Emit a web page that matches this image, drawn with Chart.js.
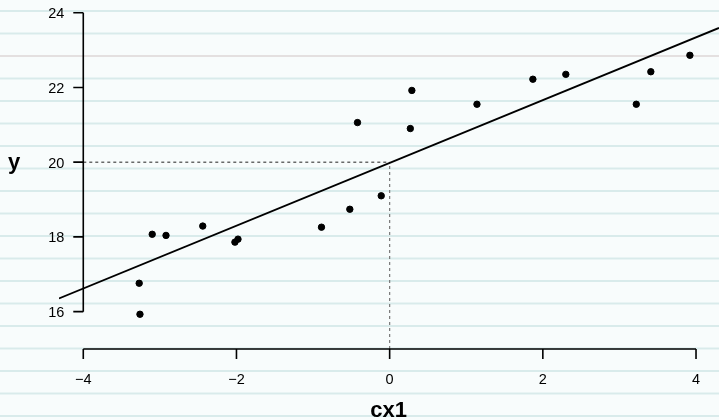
<!DOCTYPE html>
<html lang="en">
<head>
  <meta charset="UTF-8">
  <title>y vs cx1</title>
  <style>
    body { margin: 0; background: #f8fcfc; }
    canvas { display: block; width: 719px !important; height: 420px !important; }
  </style>
  <script src="https://cdn.jsdelivr.net/npm/chart.js"></script>
</head>
<body>
  <canvas id="fitChart" width="719" height="420"></canvas>
  <script>
    // centred predictor and response
    const cx1 = [-3.27, -3.26, -3.10, -2.92, -2.44, -2.02, -1.98, -0.89, -0.52, -0.11,
                 -0.42, 0.29, 0.27, 1.14, 1.87, 2.30, 3.22, 3.41, 3.92];
    const yVals = [16.76, 15.93, 18.07, 18.04, 18.29, 17.86, 17.94, 18.26, 18.74, 19.10,
                   21.06, 21.92, 20.90, 21.55, 22.22, 22.35, 21.55, 22.42, 22.86];
    const xTicks = [-4, -2, 0, 2, 4];
    const yTicks = [16, 18, 20, 22, 24];
    // least squares fit
    const fitIntercept = 19.98;
    const fitSlope = 0.84;

    const xMin = -4.317, xMax = 4.30;
    const yMin = 15, yMax = 24.34;

    const points = cx1.map((x, i) => ({ x: x, y: yVals[i] }));
    const fitLine = [xMin, xMax].map(x => ({ x: x, y: fitIntercept + fitSlope * x }));

    const fmt = v => (v < 0 ? '\u2212' + Math.abs(v) : String(v));

    // ruled paper background
    const paper = {
      id: 'paper',
      beforeDraw(chart) {
        const ctx = chart.ctx;
        ctx.save();
        ctx.fillStyle = '#f8fcfc';
        ctx.fillRect(0, 0, chart.width, chart.height);
        for (let k = 0; k < 19; k++) {
          const yy = 11 + 22.5 * k;
          ctx.strokeStyle = (k === 2) ? '#e4e0e0' : '#d9ebeb';
          ctx.lineWidth = 2;
          ctx.beginPath();
          ctx.moveTo(0, yy);
          ctx.lineTo(chart.width, yy);
          ctx.stroke();
        }
        ctx.restore();
      }
    };

    // R-style detached axes
    const axes = {
      id: 'axes',
      afterDraw(chart) {
        const ctx = chart.ctx;
        const xs = chart.scales.x, ys = chart.scales.y;
        const axisY = ys.getPixelForValue(yMin);
        const axisX = xs.getPixelForValue(xTicks[0]);
        ctx.save();
        ctx.strokeStyle = '#000';
        ctx.fillStyle = '#000';
        ctx.lineWidth = 1.6;

        // x axis
        ctx.beginPath();
        ctx.moveTo(xs.getPixelForValue(xTicks[0]), axisY);
        ctx.lineTo(xs.getPixelForValue(xTicks[xTicks.length - 1]), axisY);
        xTicks.forEach(t => {
          const px = xs.getPixelForValue(t);
          ctx.moveTo(px, axisY);
          ctx.lineTo(px, axisY + 10);
        });
        ctx.stroke();

        // y axis
        ctx.beginPath();
        ctx.moveTo(axisX, ys.getPixelForValue(yTicks[0]));
        ctx.lineTo(axisX, ys.getPixelForValue(yTicks[yTicks.length - 1]));
        yTicks.forEach(t => {
          const py = ys.getPixelForValue(t);
          ctx.moveTo(axisX, py);
          ctx.lineTo(axisX - 10, py);
        });
        ctx.stroke();

        ctx.font = '14.5px "Liberation Sans", Arial, sans-serif';
        ctx.textBaseline = 'alphabetic';
        ctx.textAlign = 'center';
        xTicks.forEach(t => {
          ctx.fillText(fmt(t), xs.getPixelForValue(t), axisY + 35);
        });
        ctx.textAlign = 'right';
        yTicks.forEach(t => {
          ctx.fillText(fmt(t), axisX - 19, ys.getPixelForValue(t) + 5.5);
        });

        ctx.font = 'bold 22px "Liberation Sans", Arial, sans-serif';
        ctx.textAlign = 'center';
        ctx.fillText('cx1', xs.getPixelForValue(0) - 1, 416.5);
        ctx.fillText('y', 14, 168.5);
        ctx.restore();
      }
    };

    new Chart(document.getElementById('fitChart'), {
      type: 'scatter',
      data: {
        datasets: [
          {
            data: points,
            backgroundColor: '#000',
            borderColor: '#000',
            pointRadius: 3.2,
            pointHoverRadius: 3.2
          },
          {
            type: 'line',
            data: fitLine,
            borderColor: '#000',
            borderWidth: 1.8,
            pointRadius: 0
          },
          {
            type: 'line',
            data: [{ x: xTicks[0], y: 20 }, { x: 0, y: 20 }],
            borderColor: '#222',
            borderWidth: 1,
            borderDash: [3, 3],
            pointRadius: 0
          },
          {
            type: 'line',
            data: [{ x: 0, y: yMin }, { x: 0, y: 20 }],
            borderColor: '#777',
            borderWidth: 1.2,
            borderDash: [3, 3],
            pointRadius: 0
          }
        ]
      },
      options: {
        responsive: false,
        animation: false,
        devicePixelRatio: 1,
        layout: { autoPadding: false, padding: { left: 59, right: 0, top: 0, bottom: 71 } },
        plugins: { legend: { display: false }, tooltip: { enabled: false } },
        scales: {
          x: { type: 'linear', min: xMin, max: xMax, display: false },
          y: { type: 'linear', min: yMin, max: yMax, display: false }
        }
      },
      plugins: [paper, axes]
    });
  </script>
</body>
</html>
